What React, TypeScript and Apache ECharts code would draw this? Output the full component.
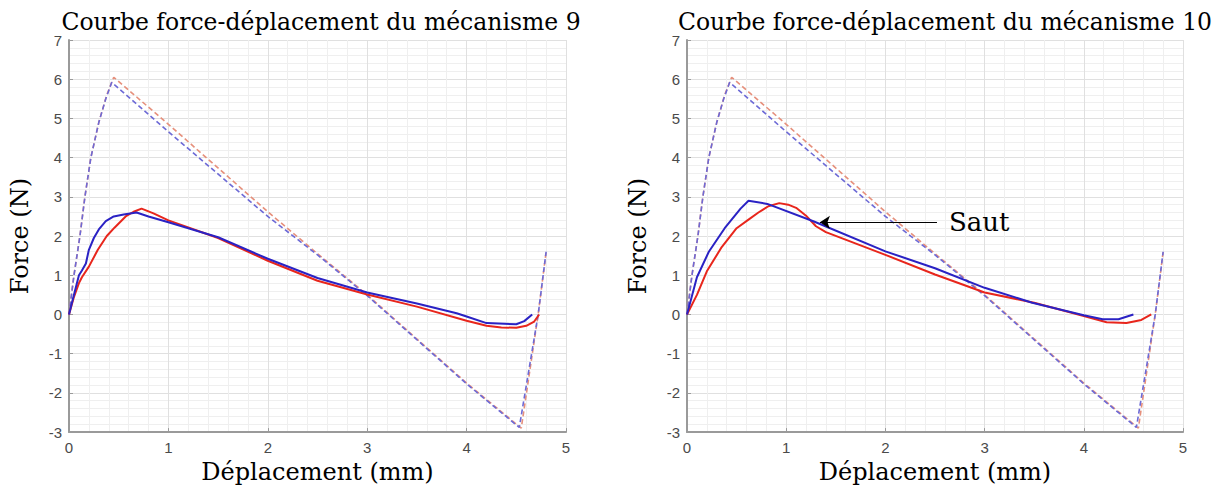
import React, { useEffect, useRef } from "react";
import * as echarts from "echarts";

type Pt = [number, number];

const xTicks = [0, 1, 2, 3, 4, 5];
const yTicks = [-3, -2, -1, 0, 1, 2, 3, 4, 5, 6, 7];

const titles = ["Courbe force-déplacement du mécanisme 9", "Courbe force-déplacement du mécanisme 10"];
const xName = "Déplacement (mm)";
const yName = "Force (N)";

// Dashed (model) curves
const dashRed: Pt[] = [
  [0, 0], [0.05, 1], [0.11, 2], [0.16, 3], [0.22, 4], [0.3, 4.9], [0.38, 5.6], [0.45, 6.05],
  [1, 4.85], [2, 2.62], [2.5, 1.55], [3, 0.5], [4, -1.75], [4.55, -2.9], [4.72, 0], [4.8, 1.6],
];
const dashBlue: Pt[] = [
  [0, 0], [0.05, 1], [0.11, 2], [0.16, 3], [0.22, 4], [0.3, 4.9], [0.37, 5.5], [0.43, 5.92],
  [1, 4.66], [2, 2.5], [2.5, 1.52], [3, 0.48], [4, -1.77], [4.53, -2.88], [4.72, 0], [4.8, 1.6],
];

// Mécanisme 9 measured curves
const m9Red: Pt[] = [
  [0, 0], [0.05, 0.45], [0.1, 0.8], [0.13, 0.95], [0.2, 1.22], [0.29, 1.65], [0.38, 2.0],
  [0.46, 2.22], [0.57, 2.5], [0.65, 2.62], [0.73, 2.7], [0.85, 2.58], [1, 2.4],
  [1.5, 1.95], [2, 1.37], [2.5, 0.86], [3, 0.51], [3.5, 0.2], [4, -0.16], [4.2, -0.29],
  [4.35, -0.33], [4.5, -0.34], [4.6, -0.29], [4.68, -0.18], [4.73, 0],
];
const m9Blue: Pt[] = [
  [0, 0], [0.05, 0.5], [0.1, 1.0], [0.13, 1.12], [0.17, 1.3], [0.2, 1.65], [0.25, 1.95],
  [0.3, 2.17], [0.37, 2.38], [0.45, 2.5], [0.55, 2.55], [0.68, 2.6], [0.8, 2.5],
  [1, 2.35], [1.5, 1.97], [2, 1.42], [2.5, 0.93], [3, 0.56], [3.5, 0.28], [3.9, 0.03],
  [4, -0.05], [4.2, -0.22], [4.5, -0.25], [4.58, -0.17], [4.66, 0],
];

// Mécanisme 10 measured curves
const m10Red: Pt[] = [
  [0, 0], [0.1, 0.5], [0.2, 1.1], [0.35, 1.72], [0.5, 2.2], [0.62, 2.42], [0.72, 2.6],
  [0.82, 2.76], [0.93, 2.84], [1.02, 2.8], [1.1, 2.72], [1.2, 2.52], [1.3, 2.25],
  [1.4, 2.1], [2, 1.52], [2.5, 1.02], [3, 0.56], [3.5, 0.3], [4, -0.04], [4.23, -0.2],
  [4.43, -0.22], [4.58, -0.14], [4.68, 0],
];
const m10Blue: Pt[] = [
  [0, 0], [0.1, 0.95], [0.22, 1.6], [0.38, 2.2], [0.54, 2.7], [0.62, 2.9], [0.81, 2.82],
  [1.28, 2.37], [2, 1.61], [2.5, 1.18], [3, 0.68], [3.48, 0.3], [4, -0.02], [4.19, -0.12],
  [4.35, -0.12], [4.5, 0],
];

// Annotation "Saut" (arrow tail -> tip, data coordinates)
const sautLabel = "Saut";
const sautTail: Pt = [2.52, 2.35];
const sautTip: Pt = [1.34, 2.35];

const SERIF = "'DejaVu Serif', serif";
const SANS = "'Liberation Sans', Arial, sans-serif";

export default function App() {
  const ref = useRef<HTMLDivElement>(null);

  useEffect(() => {
    if (!ref.current) return;
    const chart = echarts.init(ref.current, undefined, { renderer: "svg" });

    const grids = [
      { left: 69, top: 40, width: 497, height: 393 },
      { left: 687, top: 40, width: 496, height: 393 },
    ];

    const mkX = (i: number) => ({
      type: "value",
      gridIndex: i,
      min: xTicks[0],
      max: xTicks[xTicks.length - 1],
      interval: 1,
      name: xName,
      nameLocation: "middle",
      nameGap: 22,
      nameTextStyle: { fontFamily: SERIF, fontSize: 24, color: "#000", verticalAlign: "top" },
      axisLine: { show: true, onZero: false, lineStyle: { color: "#9a9a9a", width: 2 } },
      axisTick: { show: true, inside: true, length: 4, lineStyle: { color: "#9a9a9a" } },
      minorTick: { show: false, splitNumber: 5 },
      axisLabel: { fontFamily: SANS, fontSize: 15, color: "#4a4a4a", margin: 8 },
      splitLine: { show: true, lineStyle: { color: "#e0e0e0", width: 1 } },
      minorSplitLine: { show: true, lineStyle: { color: "#efefef", width: 1 } },
    });
    const mkY = (i: number) => ({
      type: "value",
      gridIndex: i,
      min: yTicks[0],
      max: yTicks[yTicks.length - 1],
      interval: 1,
      name: yName,
      nameLocation: "middle",
      nameGap: 37,
      nameRotate: 90,
      nameTextStyle: { fontFamily: SERIF, fontSize: 24, color: "#000" },
      axisLine: { show: true, onZero: false, lineStyle: { color: "#9a9a9a", width: 2 } },
      axisTick: { show: true, inside: true, length: 4, lineStyle: { color: "#9a9a9a" } },
      minorTick: { show: false, splitNumber: 5 },
      axisLabel: { fontFamily: SANS, fontSize: 15, color: "#4a4a4a", margin: 7 },
      splitLine: { show: true, lineStyle: { color: "#e0e0e0", width: 1 } },
      minorSplitLine: { show: true, lineStyle: { color: "#efefef", width: 1 } },
    });

    const dashed = (data: Pt[], color: string, i: number) => ({
      type: "line",
      xAxisIndex: i,
      yAxisIndex: i,
      data,
      showSymbol: false,
      symbol: "none",
      lineStyle: { color, width: 1.6, type: [5, 3] },
      z: 2,
    });
    const solid = (data: Pt[], color: string, i: number, extra: any = {}) => ({
      type: "line",
      xAxisIndex: i,
      yAxisIndex: i,
      data,
      showSymbol: false,
      symbol: "none",
      lineStyle: { color, width: 2 },
      z: 3,
      ...extra,
    });

    const titleStyle = { fontFamily: SERIF, fontSize: 23.5, fontWeight: "normal", color: "#000" };
    const option: any = {
      animation: false,
      backgroundColor: "#fff",
      title: [
        { text: titles[0], left: 316, textAlign: "center", top: 5, textStyle: titleStyle },
        { text: titles[1], left: 940, textAlign: "center", top: 5, textStyle: titleStyle },
      ],
      grid: grids,
      xAxis: [mkX(0), mkX(1)],
      yAxis: [mkY(0), mkY(1)],
      series: [
        dashed(dashRed, "#e6907c", 0),
        dashed(dashBlue, "#6d6ad6", 0),
        solid(m9Red, "#e8261c", 0),
        solid(m9Blue, "#2a22c4", 0),
        dashed(dashRed, "#e6907c", 1),
        dashed(dashBlue, "#6d6ad6", 1),
        solid(m10Red, "#e8261c", 1),
        solid(m10Blue, "#2a22c4", 1, {
          markLine: {
            silent: true,
            symbol: ["none", "arrow"],
            symbolSize: 10,
            lineStyle: { color: "#000", width: 1.2, type: "solid" },
            label: {
              show: true,
              position: "start",
              distance: 12,
              formatter: sautLabel,
              fontFamily: SERIF,
              fontSize: 26,
              color: "#000",
            },
            data: [[{ coord: sautTail }, { coord: sautTip }]],
          },
        }),
      ],
    };

    chart.setOption(option);
    return () => chart.dispose();
  }, []);

  return (
    <div
      ref={ref}
      style={{ position: "fixed", left: 0, top: 0, width: 1219, height: 489 }}
    />
  );
}
